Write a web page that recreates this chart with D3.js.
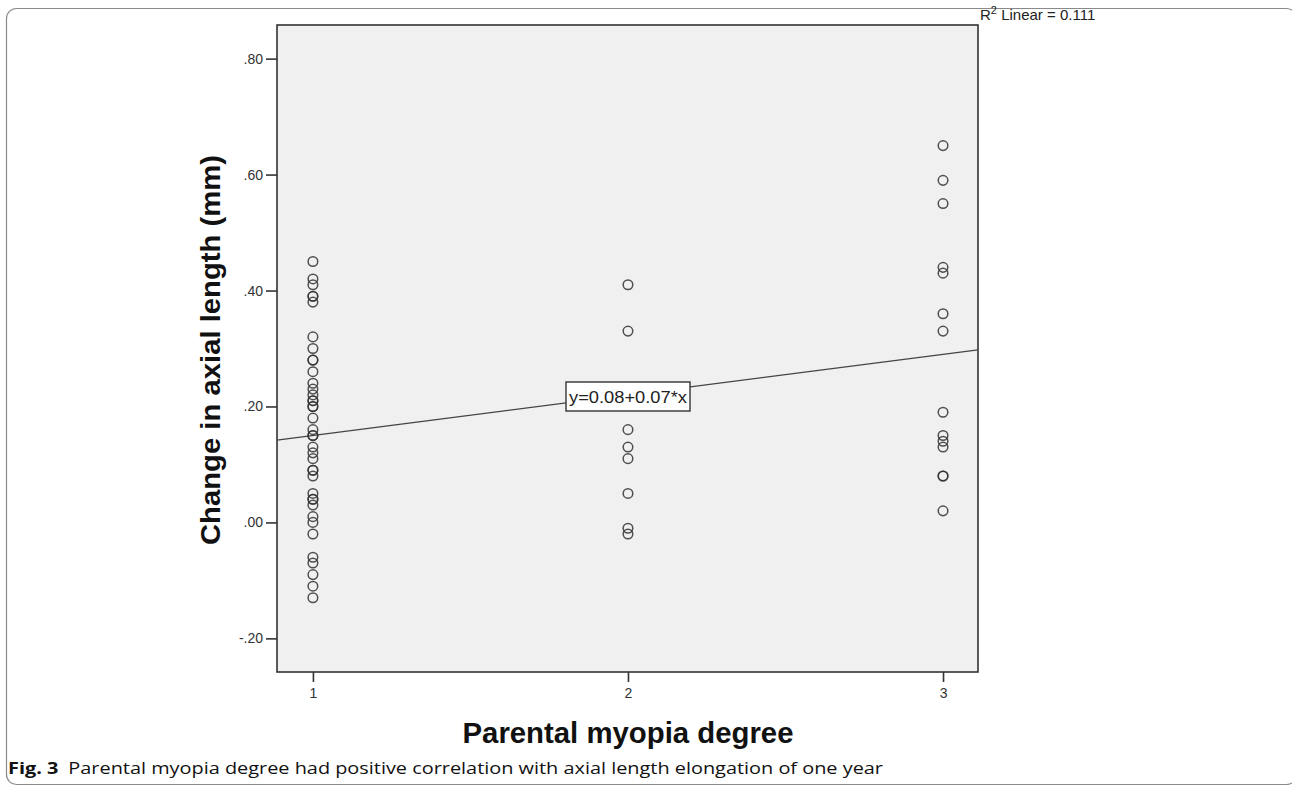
<!DOCTYPE html>
<html>
<head>
<meta charset="utf-8">
<script src="https://cdn.jsdelivr.net/npm/d3@7"></script>
<style>
  body { margin: 0; background: #fff; }
  svg { display: block; }
</style>
</head>
<body>
<svg id="chart"></svg>
<script>
// values, one list per parental myopia degree
const degree1 = [0.45, 0.42, 0.41, 0.39, 0.39, 0.38, 0.32, 0.30, 0.28, 0.28, 0.26,
  0.24, 0.23, 0.22, 0.21, 0.21, 0.20, 0.20, 0.18, 0.16, 0.15, 0.15, 0.13, 0.12,
  0.11, 0.09, 0.09, 0.08, 0.05, 0.04, 0.04, 0.03, 0.01, 0.00, -0.02, -0.06,
  -0.07, -0.09, -0.11, -0.13];
const degree2 = [0.41, 0.33, 0.16, 0.13, 0.11, 0.05, -0.01, -0.02];
const degree3 = [0.65, 0.59, 0.55, 0.44, 0.43, 0.36, 0.33, 0.19, 0.15, 0.14, 0.13,
  0.08, 0.08, 0.02];

const xTicks = [1, 2, 3];
const yTicks = [-0.2, 0, 0.2, 0.4, 0.6, 0.8];
const fitLine = { intercept: 0.08, slope: 0.07, r2: 0.111 };

var config = {
  width: 1292,
  height: 789,
  plot: { left: 277, right: 978, top: 25, bottom: 672 },
  xDomain: [0.886, 3.111],
  yDomain: [-0.258, 0.858],
  font: '"Liberation Sans", Arial, sans-serif'
};

// SPSS style tick text: no leading zero, plain hyphen for minus
function spssFormat(v) {
  return d3.format('.2f')(v).replace('\u2212', '-').replace('0.', '.');
}

var svg = d3.select('#chart')
  .attr('width', config.width)
  .attr('height', config.height);

// outer figure frame with rounded corners
svg.append('rect')
  .attr('x', 6.5).attr('y', 8.5)
  .attr('width', 1290).attr('height', 776)
  .attr('rx', 10)
  .attr('fill', 'none')
  .attr('stroke', '#8a8a8a')
  .attr('stroke-width', 1.2);

var p = config.plot;
var x = d3.scaleLinear().domain(config.xDomain).range([p.left, p.right]);
var y = d3.scaleLinear().domain(config.yDomain).range([p.bottom, p.top]);

svg.append('rect')
  .attr('x', p.left).attr('y', p.top)
  .attr('width', p.right - p.left).attr('height', p.bottom - p.top)
  .attr('fill', '#f0f0f0')
  .attr('stroke', '#333')
  .attr('stroke-width', 1.6);

// axes
var yAxis = d3.axisLeft(y)
  .tickValues(yTicks)
  .tickSize(11)
  .tickPadding(3)
  .tickFormat(spssFormat);

var gy = svg.append('g')
  .attr('transform', 'translate(' + p.left + ',0)')
  .call(yAxis);

var xAxis = d3.axisBottom(x)
  .tickValues(xTicks)
  .tickSize(10)
  .tickPadding(6)
  .tickFormat(d3.format('d'));

var gx = svg.append('g')
  .attr('transform', 'translate(0,' + p.bottom + ')')
  .call(xAxis);

[gx, gy].forEach(function (g) {
  g.select('.domain').remove();
  g.selectAll('.tick line').attr('stroke', '#333').attr('stroke-width', 1.6);
  g.selectAll('.tick text')
    .attr('fill', '#333')
    .style('font-family', config.font)
    .style('font-size', '14px');
});

// regression line across the whole plot
var lineData = config.xDomain.map(v => ({ x: v, y: fitLine.intercept + fitLine.slope * v }));
svg.append('path')
  .datum(lineData)
  .attr('d', d3.line().x(d => x(d.x)).y(d => y(d.y)))
  .attr('fill', 'none')
  .attr('stroke', '#444')
  .attr('stroke-width', 1.3);

// points
var points = [];
[degree1, degree2, degree3].forEach(function (vals, i) {
  vals.forEach(v => points.push({ x: xTicks[i], y: v }));
});

svg.append('g').selectAll('circle')
  .data(points)
  .enter().append('circle')
  .attr('cx', d => x(d.x))
  .attr('cy', d => y(d.y))
  .attr('r', 4.8)
  .attr('fill', 'none')
  .attr('stroke', '#333')
  .attr('stroke-width', 1.5)
  .attr('stroke-opacity', 0.85);

// equation label box
var eq = svg.append('g');
eq.append('rect')
  .attr('x', 566).attr('y', 382)
  .attr('width', 124).attr('height', 29)
  .attr('fill', '#fff')
  .attr('stroke', '#333')
  .attr('stroke-width', 1.4);
eq.append('text')
  .attr('x', 628).attr('y', 403)
  .attr('text-anchor', 'middle')
  .style('font-family', config.font)
  .style('font-size', '17px')
  .attr('fill', '#222')
  .attr('textLength', 118)
  .attr('lengthAdjust', 'spacingAndGlyphs')
  .text('y=0.08+0.07*x');

// R squared note
var r2 = svg.append('text')
  .attr('x', 980).attr('y', 20)
  .style('font-family', config.font)
  .style('font-size', '15px')
  .attr('fill', '#222');
r2.append('tspan').text('R');
r2.append('tspan').attr('dy', -6).style('font-size', '11px').text('2');
r2.append('tspan').attr('dy', 6).text(' Linear = ' + d3.format('.3f')(fitLine.r2));

// axis titles
svg.append('text')
  .attr('x', 628).attr('y', 743)
  .attr('text-anchor', 'middle')
  .style('font-family', config.font)
  .style('font-weight', 'bold')
  .style('font-size', '29px')
  .attr('fill', '#111')
  .attr('textLength', 331)
  .attr('lengthAdjust', 'spacingAndGlyphs')
  .text('Parental myopia degree');

svg.append('text')
  .attr('transform', 'translate(220,350) rotate(-90)')
  .attr('text-anchor', 'middle')
  .style('font-family', config.font)
  .style('font-weight', 'bold')
  .style('font-size', '28px')
  .attr('fill', '#111')
  .attr('textLength', 390)
  .attr('lengthAdjust', 'spacingAndGlyphs')
  .text('Change in axial length (mm)');

// caption
var cap = svg.append('text')
  .attr('x', 8).attr('y', 774)
  .style('font-family', '"Open Sans", "Noto Sans", sans-serif')
  .style('font-size', '16px')
  .attr('fill', '#111');
cap.append('tspan').style('font-weight', 'bold').text('Fig. 3');
cap.append('tspan').attr('dx', 8)
  .text('Parental myopia degree had positive correlation with axial length elongation of one year');
cap.attr('textLength', 875).attr('lengthAdjust', 'spacingAndGlyphs');
</script>
</body>
</html>
